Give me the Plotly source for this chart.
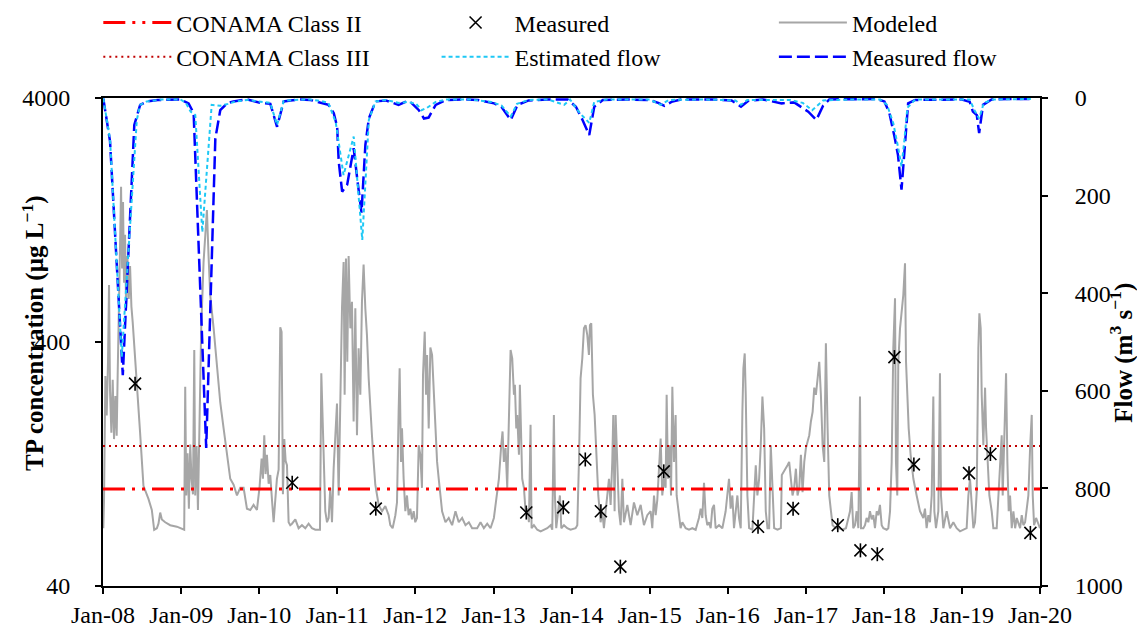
import math
import pandas as pd
import plotly.graph_objects as go

# ---------------------------------------------------------------- data
# Modeled total phosphorus (decimal year, µg/L)
model_year = [
    2008.004, 2008.013, 2008.030, 2008.047, 2008.064, 2008.077, 2008.090, 2008.107, 2008.124, 2008.141,
    2008.158, 2008.175, 2008.188, 2008.201, 2008.218, 2008.231, 2008.244, 2008.256, 2008.269, 2008.282,
    2008.295, 2008.312, 2008.329, 2008.346, 2008.363, 2008.380, 2008.397, 2008.432, 2008.474, 2008.517,
    2008.581, 2008.624, 2008.654, 2008.688, 2008.709, 2008.731, 2008.752, 2008.795, 2008.859, 2008.944,
    2009.038, 2009.051, 2009.064, 2009.081, 2009.098, 2009.115, 2009.132, 2009.150, 2009.167, 2009.179,
    2009.197, 2009.214, 2009.235, 2009.256, 2009.286, 2009.308, 2009.329, 2009.350, 2009.372, 2009.415,
    2009.457, 2009.500, 2009.543, 2009.585, 2009.628, 2009.671, 2009.714, 2009.756, 2009.799, 2009.842,
    2009.885, 2009.927, 2009.970, 2010.004, 2010.030, 2010.047, 2010.064, 2010.081, 2010.098, 2010.120,
    2010.141, 2010.162, 2010.184, 2010.205, 2010.226, 2010.248, 2010.269, 2010.286, 2010.303, 2010.321,
    2010.338, 2010.355, 2010.376, 2010.397,
    2010.419, 2010.462, 2010.504, 2010.547, 2010.590, 2010.632, 2010.675, 2010.718, 2010.778, 2010.795,
    2010.812, 2010.825, 2010.846, 2010.868, 2010.889, 2010.910, 2010.932, 2010.953, 2010.974, 2010.996,
    2011.017, 2011.038, 2011.060, 2011.081, 2011.094, 2011.111, 2011.128, 2011.145, 2011.167, 2011.188,
    2011.209, 2011.231, 2011.252, 2011.273, 2011.295, 2011.316, 2011.337, 2011.359, 2011.380, 2011.402,
    2011.423, 2011.444, 2011.466, 2011.487, 2011.530, 2011.573, 2011.615, 2011.658, 2011.679, 2011.709,
    2011.744, 2011.765, 2011.786, 2011.799, 2011.816, 2011.829, 2011.850, 2011.872, 2011.893, 2011.914,
    2011.936, 2011.957, 2011.979, 2011.999, 2012.021, 2012.043, 2012.064, 2012.085, 2012.098, 2012.120,
    2012.137, 2012.150, 2012.171, 2012.192, 2012.214, 2012.235, 2012.256, 2012.278, 2012.299, 2012.320,
    2012.342, 2012.385, 2012.427, 2012.470, 2012.513, 2012.555, 2012.598, 2012.641, 2012.684, 2012.726,
    2012.790, 2012.833, 2012.876, 2012.919, 2012.961, 2013.004, 2013.038, 2013.068, 2013.098, 2013.115,
    2013.132, 2013.154, 2013.175, 2013.196, 2013.218, 2013.239, 2013.261, 2013.273, 2013.291, 2013.303,
    2013.325, 2013.337, 2013.355, 2013.367, 2013.389, 2013.410, 2013.432, 2013.453, 2013.474, 2013.487,
    2013.517, 2013.560, 2013.603, 2013.645, 2013.688, 2013.731, 2013.752, 2013.773, 2013.786, 2013.803,
    2013.825, 2013.850, 2013.868, 2013.902, 2013.944, 2013.987, 2014.051, 2014.073, 2014.094, 2014.115,
    2014.137, 2014.158, 2014.179, 2014.201, 2014.222, 2014.235, 2014.252, 2014.273, 2014.295, 2014.320,
    2014.342, 2014.372, 2014.393, 2014.414, 2014.436, 2014.457, 2014.479, 2014.500, 2014.521, 2014.534,
    2014.551, 2014.564, 2014.585, 2014.607, 2014.628, 2014.650, 2014.671, 2014.714, 2014.756, 2014.799,
    2014.842, 2014.885, 2014.927, 2014.970, 2015.013, 2015.034, 2015.056, 2015.077,
    2015.098, 2015.120, 2015.141, 2015.162, 2015.184, 2015.205, 2015.218, 2015.235, 2015.257, 2015.274,
    2015.291, 2015.312, 2015.333, 2015.346, 2015.376, 2015.397, 2015.419, 2015.462, 2015.504, 2015.547,
    2015.590, 2015.632, 2015.654, 2015.675, 2015.697, 2015.718, 2015.739, 2015.761, 2015.782, 2015.803,
    2015.825, 2015.846, 2015.889, 2015.932, 2015.974, 2016.017, 2016.038, 2016.060, 2016.081, 2016.103,
    2016.124, 2016.145, 2016.167, 2016.188, 2016.201, 2016.218, 2016.231, 2016.252, 2016.274, 2016.316,
    2016.359, 2016.380, 2016.402, 2016.423, 2016.444, 2016.466, 2016.487, 2016.509, 2016.530, 2016.551,
    2016.573, 2016.594, 2016.637, 2016.680, 2016.692, 2016.722, 2016.744, 2016.765, 2016.786, 2016.808,
    2016.829, 2016.850, 2016.872, 2016.893, 2016.915, 2016.936, 2016.957, 2016.979, 2017.000, 2017.021,
    2017.043, 2017.064, 2017.086, 2017.107, 2017.128, 2017.150, 2017.171, 2017.192, 2017.214, 2017.235,
    2017.256, 2017.278, 2017.299, 2017.321, 2017.342, 2017.385, 2017.427, 2017.470, 2017.513,
    2017.565, 2017.586, 2017.607, 2017.629, 2017.650, 2017.672, 2017.693, 2017.706, 2017.736, 2017.757,
    2017.778, 2017.800, 2017.821, 2017.843, 2017.864, 2017.885, 2017.907, 2017.928, 2017.949, 2017.971,
    2017.992, 2018.035, 2018.056, 2018.078, 2018.099, 2018.120, 2018.142, 2018.154, 2018.171, 2018.184,
    2018.206, 2018.227, 2018.248, 2018.270, 2018.283, 2018.300, 2018.317, 2018.342, 2018.377, 2018.419,
    2018.462, 2018.505, 2018.526, 2018.547, 2018.569, 2018.590, 2018.612, 2018.633, 2018.646, 2018.667,
    2018.697, 2018.718, 2018.731, 2018.761, 2018.804, 2018.847, 2018.889, 2018.932, 2018.975, 2019.060,
    2019.082, 2019.103, 2019.125, 2019.146, 2019.167, 2019.189, 2019.210, 2019.223, 2019.240, 2019.253,
    2019.274, 2019.296, 2019.309, 2019.326, 2019.351, 2019.381, 2019.402, 2019.445, 2019.466, 2019.488,
    2019.509, 2019.522, 2019.539, 2019.565, 2019.582, 2019.599, 2019.616, 2019.638, 2019.659, 2019.681,
    2019.702, 2019.723, 2019.745, 2019.766, 2019.787, 2019.809, 2019.830, 2019.851, 2019.873, 2019.894,
    2019.907, 2019.924, 2019.950, 2019.980, 2020.000,
]
model_tp = [
    69, 90, 290, 200, 330, 685, 250, 170, 280, 160,
    240, 165, 300, 450, 1000, 1730, 800, 1500, 700, 1100,
    550, 900, 600, 820, 560, 480, 390, 270, 170, 103,
    91, 82, 68, 69, 72, 80, 75, 73, 71, 70,
    68, 262, 94, 140, 83, 152, 110, 95, 371, 94,
    150, 82, 240, 455, 850, 1100, 1390, 900, 620, 455,
    312, 226, 177, 138, 110, 104, 94, 101, 101, 83,
    82, 86, 82, 102, 133, 110, 166, 115, 138, 105,
    114, 91, 73, 90, 110, 120, 460, 440, 95, 160,
    130, 125, 73, 71,
    72, 75, 69, 71, 69, 72, 69, 68, 68, 298,
    177, 129, 81, 73, 76, 101, 73, 121, 161, 224,
    94, 267, 550, 850, 243, 880, 332, 900, 455, 585,
    189, 550, 166, 377, 243, 585, 830, 550, 427, 284,
    207, 166, 129, 104, 86, 81, 85, 78, 71, 69,
    78, 88, 207, 312, 129, 177, 110, 81, 94, 78,
    83, 75, 81, 73, 76, 151, 138, 101, 293, 441,
    243, 354, 177, 380, 354, 243, 177, 129, 110, 94,
    81, 73, 76, 71, 81, 73, 76, 71, 73, 69,
    69, 73, 69, 72, 69, 76, 94, 110, 151, 172,
    129, 147, 101, 177, 371, 343, 243, 267, 177, 201,
    138, 267, 129, 110, 101, 81, 83, 73, 183, 69,
    71, 68, 67, 68, 69, 71, 68, 201, 94, 69,
    81, 94, 69, 71, 69, 68, 69, 71, 129, 284,
    343, 455, 469, 427, 354, 469, 477, 243, 201, 129,
    94, 73, 81, 69, 81, 94, 110, 86, 129, 201,
    81, 201, 129, 81, 71, 110, 73, 86, 71, 88,
    78, 86, 71, 78, 81, 69, 94, 78,
    90, 129, 161, 94, 110, 101, 243, 110, 151, 94,
    262, 129, 201, 94, 76, 69, 73, 69, 68, 69,
    68, 76, 83, 76, 106, 78, 71, 73, 69, 83,
    86, 69, 71, 69, 81, 110, 83, 94, 69, 81,
    94, 76, 69, 207, 312, 359, 243, 94, 69, 68,
    125, 94, 110, 151, 239, 177, 81, 69, 69, 151,
    94, 69, 68, 69, 114, 118, 121, 125, 129, 110,
    94, 101, 121, 94, 101, 138, 97, 129, 147, 156,
    166, 189, 207, 260, 243, 284, 332, 243, 151, 129,
    395, 177, 94, 81, 71, 69, 69, 68, 69,
    81, 97, 69, 71, 81, 69, 239, 69, 69, 71,
    76, 73, 81, 75, 78, 69, 81, 78, 86, 71,
    69, 68, 69, 81, 129, 377, 604, 129, 94, 332,
    455, 550, 623, 840, 332, 243, 177, 138, 110, 94,
    81, 76, 83, 69, 78, 73, 94, 239, 81, 69,
    81, 298, 94, 69, 81, 69, 73, 69, 67, 69,
    94, 110, 83, 69, 73, 97, 377, 524, 455, 243,
    151, 260, 177, 129, 94, 81, 69, 69, 94, 129,
    166, 94, 151, 298, 129, 81, 94, 69, 81, 69,
    76, 73, 69, 78, 71, 73, 81, 94, 147, 201,
    94, 71, 76, 71, 69,
]

# Measured total phosphorus (µg/L)
measured_date = [
    "2008-05-30", "2010-06-04", "2011-06-30", "2013-06-03", "2013-11-23",
    "2014-03-06", "2014-05-18", "2014-08-17", "2015-03-08", "2016-05-22",
    "2016-11-02", "2017-05-30", "2017-09-13", "2017-12-01", "2018-02-19",
    "2018-05-21", "2019-02-03", "2019-05-14", "2019-11-17",
]
measured_tp = [270, 106, 83, 80, 84, 132, 81, 48, 118, 70,
               83, 71, 56, 54, 347, 126, 116, 139, 66]

# Measured flow (decimal year, m3/s)
flow_meas_year = [
    2008.004, 2008.090, 2008.253, 2008.400, 2008.475, 2008.560, 2008.700, 2008.850, 2008.990, 2009.094,
    2009.159, 2009.320, 2009.437, 2009.500, 2009.587, 2009.668, 2009.843, 2010.014, 2010.142, 2010.228,
    2010.313, 2010.400, 2010.527, 2010.656, 2010.784, 2010.886, 2010.955, 2010.998, 2011.018, 2011.062,
    2011.126, 2011.210, 2011.255, 2011.310, 2011.360, 2011.404, 2011.490, 2011.620, 2011.785, 2011.874,
    2011.950, 2012.045, 2012.110, 2012.170, 2012.260, 2012.390, 2012.600, 2012.800, 2013.007, 2013.100,
    2013.220, 2013.307, 2013.450, 2013.700, 2013.950, 2014.055, 2014.140, 2014.226, 2014.290, 2014.400,
    2014.700, 2015.000, 2015.110, 2015.190, 2015.280, 2015.400, 2015.800, 2016.050, 2016.170, 2016.260,
    2016.450, 2016.690, 2016.850, 2017.030, 2017.134, 2017.220, 2017.300, 2017.600, 2017.900, 2018.006,
    2018.070, 2018.135, 2018.180, 2018.225, 2018.250, 2018.280, 2018.310, 2018.400, 2018.700, 2019.000,
    2019.100, 2019.140, 2019.190, 2019.220, 2019.270, 2019.380, 2019.600, 2019.890,
]
flow_meas = [
    1, 89, 568, 55, 14, 7, 4, 3, 3, 11,
    31, 717, 83, 25, 11, 7, 3, 10, 12, 59,
    7, 5, 3, 4, 10, 14, 31, 59, 130, 192,
    178, 103, 165, 235, 96, 42, 7, 5, 14, 8,
    10, 25, 42, 40, 14, 4, 3, 4, 11, 18,
    45, 14, 5, 3, 3, 18, 45, 76, 18, 4,
    3, 4, 10, 16, 8, 3, 3, 5, 18, 6,
    3, 11, 9, 28, 45, 16, 3, 2, 2, 7,
    31, 79, 117, 188, 134, 66, 11, 4, 3, 3,
    8, 28, 35, 72, 14, 3, 2, 2,
]

# Estimated flow (decimal year, m3/s)
flow_est_year = [
    2008.004, 2008.090, 2008.240, 2008.432, 2008.475, 2008.560, 2008.750, 2008.990, 2009.060, 2009.120,
    2009.180, 2009.270, 2009.390, 2009.500, 2009.600, 2009.700, 2009.850, 2010.010, 2010.140, 2010.228,
    2010.313, 2010.450, 2010.650, 2010.784, 2010.886, 2010.980, 2011.080, 2011.210, 2011.320, 2011.404,
    2011.490, 2011.620, 2011.790, 2011.900, 2012.010, 2012.080, 2012.150, 2012.260, 2012.400, 2012.700,
    2012.970, 2013.100, 2013.220, 2013.300, 2013.450, 2013.700, 2013.905, 2013.980, 2014.100, 2014.226,
    2014.290, 2014.450, 2015.000, 2015.140, 2015.250, 2015.700, 2016.100, 2016.170, 2016.250, 2016.800,
    2016.960, 2017.080, 2017.130, 2017.220, 2017.600, 2017.950, 2018.040, 2018.120, 2018.180, 2018.225,
    2018.260, 2018.300, 2018.400, 2019.100, 2019.160, 2019.220, 2019.280, 2019.400, 2019.890,
]
flow_est = [
    1, 85, 530, 45, 14, 7, 3, 3, 10, 28,
    35, 275, 14, 16, 12, 7, 4, 8, 10, 55,
    6, 4, 3, 6, 10, 50, 158, 79, 291, 45,
    7, 4, 10, 8, 12, 25, 20, 8, 3, 3,
    8, 15, 38, 12, 4, 3, 14, 3, 30, 51,
    8, 3, 3, 14, 4, 3, 5, 14, 4, 4,
    10, 25, 18, 5, 3, 3, 14, 52, 100, 140,
    90, 20, 3, 3, 25, 42, 10, 3, 2,
]

# CONAMA 357/2005 total phosphorus limits (µg/L)
class_ii_limit = 100
class_iii_limit = 150

period = ["2008-01-01", "2020-01-01"]
tick_dates = [f"{y}-01-01" for y in range(2008, 2021)]
tick_labels = [f"Jan-{y % 100:02d}" for y in range(2008, 2021)]
tp_ticks = [40, 400, 4000]
flow_ticks = [0, 200, 400, 600, 800, 1000]


def to_time(decimal_years):
    """Decimal years -> timestamps."""
    out = []
    for yf in decimal_years:
        y = int(math.floor(yf))
        start = pd.Timestamp(year=y, month=1, day=1)
        end = pd.Timestamp(year=y + 1, month=1, day=1)
        out.append(start + (yf - y) * (end - start))
    return out


FONT = "Liberation Serif, Times New Roman, serif"
LEGEND_FONT = dict(family=FONT, size=24, color="black")
TITLE_FONT = dict(family=FONT, size=25, color="black")
SUP = '<sup style="font-size:88%">'

fig = go.Figure()

fig.add_trace(go.Scatter(
    x=to_time(model_year), y=model_tp, mode="lines", name="Modeled",
    line=dict(color="#a6a6a6", width=2), legend="legend3", legendrank=1,
))
fig.add_trace(go.Scatter(
    x=period, y=[class_ii_limit, class_ii_limit], mode="lines",
    name="CONAMA Class II",
    line=dict(color="#ff0000", width=3, dash="22px,7px,3px,7px,3px,7px"),
    legend="legend", legendrank=1,
))
fig.add_trace(go.Scatter(
    x=period, y=[class_iii_limit, class_iii_limit], mode="lines",
    name="CONAMA Class III",
    line=dict(color="#c00000", width=2, dash="2px,4px"),
    legend="legend", legendrank=2,
))
fig.add_trace(go.Scatter(
    x=measured_date, y=measured_tp, mode="markers", name="Measured",
    marker=dict(symbol="x-thin-open", size=12, color="black",
                line=dict(color="black", width=1.6)),
    legendgroup="meas", legend="legend2", legendrank=1,
))
fig.add_trace(go.Scatter(
    x=measured_date, y=measured_tp, mode="markers", name="Measured",
    marker=dict(symbol="line-ns-open", size=10, color="black",
                line=dict(color="black", width=1.6)),
    legendgroup="meas", showlegend=False, legend="legend2",
))
fig.add_trace(go.Scatter(
    x=to_time(flow_meas_year), y=flow_meas, mode="lines", name="Measured flow",
    line=dict(color="#0000ff", width=2.5, dash="13px,5px"),
    yaxis="y2", legend="legend3", legendrank=2,
))
fig.add_trace(go.Scatter(
    x=to_time(flow_est_year), y=flow_est, mode="lines", name="Estimated flow",
    line=dict(color="#1ec8f5", width=2, dash="4px,3px"),
    yaxis="y2", legend="legend2", legendrank=2,
))

axis_common = dict(
    showline=True, linecolor="black", linewidth=2,
    ticks="outside", ticklen=6, tickwidth=2, tickcolor="black",
    showgrid=False, zeroline=False, automargin=False,
    tickfont=dict(family=FONT, size=24, color="black"),
)


def legend_column(x):
    return dict(
        orientation="v", x=x, y=1.2, xanchor="left", yanchor="top",
        font=LEGEND_FONT, bgcolor="rgba(0,0,0,0)", traceorder="normal",
        itemwidth=68,
    )


fig.update_layout(
    width=1137, height=626,
    margin=dict(l=103, r=97, t=98, b=40, autoexpand=False),
    plot_bgcolor="white", paper_bgcolor="white",
    font=dict(family=FONT, size=24, color="black"),
    xaxis=dict(
        type="date", range=period, tickvals=tick_dates, ticktext=tick_labels,
        mirror=True, **axis_common,
    ),
    yaxis=dict(
        type="log", range=[math.log10(40), math.log10(4000)],
        tickvals=tp_ticks, ticktext=[str(v) for v in tp_ticks],
        ticklabelstandoff=20, **axis_common,
    ),
    yaxis2=dict(
        overlaying="y", side="right", range=[1000, 0],
        tickvals=flow_ticks, ticktext=[str(v) for v in flow_ticks],
        ticklabelstandoff=22, **axis_common,
    ),
    legend=legend_column(-0.005),
    legend2=legend_column(0.356),
    legend3=legend_column(0.716),
    annotations=[
        dict(text=f"<b>TP concentration (µg L{SUP}−1</sup>)</b>", textangle=-90,
             xref="paper", yref="paper", x=-0.075, y=0.518,
             xanchor="center", yanchor="middle", showarrow=False,
             font=TITLE_FONT),
        dict(text=f"<b>Flow (m{SUP}3</sup> s{SUP}−1</sup>)</b>", textangle=-90,
             xref="paper", yref="paper", x=1.087, y=0.477,
             xanchor="center", yanchor="middle", showarrow=False,
             font=TITLE_FONT),
    ],
)

fig.write_html("out.html")
